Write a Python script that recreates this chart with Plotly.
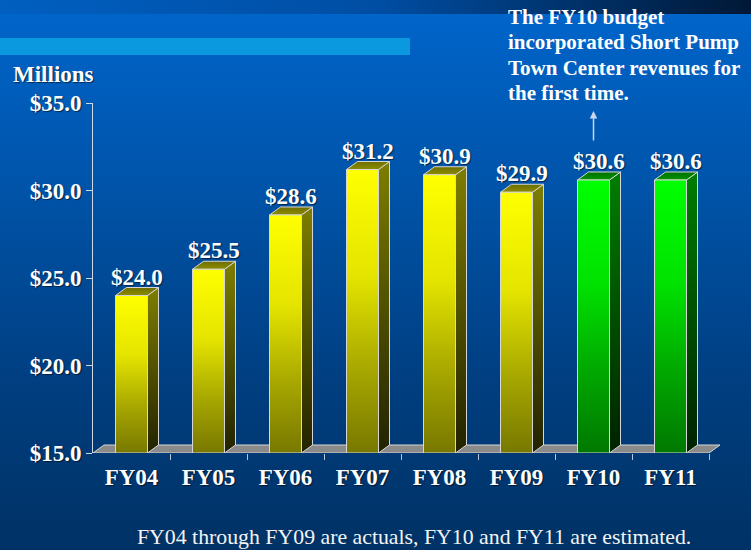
import base64
import plotly.graph_objects as go

# ---------------- data ----------------
categories = ["FY04", "FY05", "FY06", "FY07", "FY08", "FY09", "FY10", "FY11"]
values = [24.0, 25.5, 28.6, 31.2, 30.9, 29.9, 30.6, 30.6]
estimated = [False, False, False, False, False, False, True, True]
y_tick_values = [15, 20, 25, 30, 35]
y_tick_labels = ["$15.0", "$20.0", "$25.0", "$30.0", "$35.0"]
value_labels = ["$24.0", "$25.5", "$28.6", "$31.2", "$30.9", "$29.9", "$30.6", "$30.6"]
note_lines = ["The FY10 budget", "incorporated Short Pump",
              "Town Center revenues for", "the first time."]
footnote = "FY04 through FY09 are actuals, FY10 and FY11 are estimated."

# ---------------- geometry / style ----------------
W, H = 751, 550
L, R, T, B = 93, 722, 103, 453
CAT_W = 77.0
Y_MIN, Y_MAX = 15, 35
PX_PER_Y = (B - T) / (Y_MAX - Y_MIN)
DX = 11 / CAT_W            # depth offset in x units
DY = 8 / PX_PER_Y          # depth offset in y units
HW = 16 / CAT_W            # half width of bar front
XR = (R - L) / CAT_W - 0.5

def px(x):
    return (x - L) / (R - L)

def py(y):
    return (B - y) / (B - T)

SERIF = "Liberation Serif, Times New Roman, serif"
EDGE = "#d6d6d6"
front_scales = {
    False: [[0, "#787800"], [0.3, "#a8a800"], [0.62, "#e4e400"], [1, "#ffff00"]],
    True: [[0, "#007800"], [0.3, "#00a800"], [0.62, "#00e200"], [1, "#00ff00"]],
}
side_scales = {
    False: [[0, "#222200"], [1, "#7e7e00"]],
    True: [[0, "#002200"], [1, "#007e00"]],
}
top_scales = {
    False: [[0, "#8c8c00"], [1, "#6e6e00"]],
    True: [[0, "#009400"], [1, "#007000"]],
}

fig = go.Figure()

# floor
floor_x = [-0.5, len(categories) - 0.5, len(categories) - 0.5 + DX, -0.5 + DX, -0.5]
floor_y = [Y_MIN, Y_MIN, Y_MIN + DY, Y_MIN + DY, Y_MIN]
fig.add_trace(go.Scatter(x=floor_x, y=floor_y, mode="lines", fill="toself",
                         fillcolor="#8a8a8a", line=dict(color=EDGE, width=1),
                         hoverinfo="skip", showlegend=False))

for i, (v, est) in enumerate(zip(values, estimated)):
    x0, x1 = i - HW, i + HW
    # side face
    fig.add_trace(go.Scatter(
        x=[x1, x1 + DX, x1 + DX, x1, x1],
        y=[Y_MIN, Y_MIN + DY, v + DY, v, Y_MIN],
        mode="lines", fill="toself",
        fillgradient=dict(type="vertical", colorscale=side_scales[est],
                          start=Y_MIN, stop=v + DY),
        line=dict(color=EDGE, width=1), hoverinfo="skip", showlegend=False))
    # top face
    fig.add_trace(go.Scatter(
        x=[x0, x1, x1 + DX, x0 + DX, x0],
        y=[v, v, v + DY, v + DY, v],
        mode="lines", fill="toself",
        fillgradient=dict(type="vertical", colorscale=top_scales[est],
                          start=v, stop=v + DY),
        line=dict(color=EDGE, width=1), hoverinfo="skip", showlegend=False))
    # front face
    fig.add_trace(go.Scatter(
        x=[x0, x1, x1, x0, x0],
        y=[Y_MIN, Y_MIN, v, v, Y_MIN],
        mode="lines", fill="toself",
        fillgradient=dict(type="vertical", colorscale=front_scales[est],
                          start=Y_MIN, stop=v),
        line=dict(color=EDGE, width=1), hoverinfo="text",
        text=f"{categories[i]}: {value_labels[i]}", showlegend=False))

annotations = []
shadow = "1px 1px 1px rgba(0,0,0,0.55)"
for i, (v, lab) in enumerate(zip(values, value_labels)):
    annotations.append(dict(x=i + DX / 2, y=v + DY, xref="x", yref="y",
                            text=lab, showarrow=False, yanchor="bottom",
                            yshift=-4,
                            font=dict(family=SERIF, size=23, color="white",
                                      weight="bold", shadow=shadow)))

annotations.append(dict(x=px(11), y=py(75), xref="paper", yref="paper",
                        text="Millions", showarrow=False, xanchor="left",
                        yanchor="middle",
                        font=dict(family=SERIF, size=23, color="white",
                                  weight="bold", shadow=shadow)))

for k, line in enumerate(note_lines):
    annotations.append(dict(x=px(506), y=py(17 + 25.3 * k), xref="paper",
                            yref="paper", text=line, showarrow=False,
                            xanchor="left", yanchor="middle",
                            font=dict(family=SERIF, size=21, color="white",
                                      weight="bold")))

annotations.append(dict(x=6, y=Y_MIN + (B - 111) / PX_PER_Y, xref="x", yref="y",
                        text="", showarrow=True, ax=0, ay=31, arrowhead=2,
                        arrowsize=1, arrowwidth=1.5, arrowcolor="#c8d6ea"))

annotations.append(dict(x=px(414), y=py(537), xref="paper", yref="paper",
                        text=footnote, showarrow=False, xanchor="center",
                        yanchor="middle",
                        font=dict(family=SERIF, size=21.8, color="#f4f4f4")))

svg = (
    f'<svg xmlns="http://www.w3.org/2000/svg" width="{W}" height="{H}" '
    f'viewBox="0 0 {W} {H}" preserveAspectRatio="none"><defs>'
    '<linearGradient id="v" x1="0" y1="0" x2="0" y2="1">'
    '<stop offset="0" stop-color="#0066cc"/>'
    '<stop offset="0.35" stop-color="#0053a8"/>'
    '<stop offset="0.7" stop-color="#003e80"/>'
    '<stop offset="1" stop-color="#003265"/></linearGradient>'
    '<linearGradient id="h" x1="0" y1="0" x2="1" y2="0">'
    '<stop offset="0" stop-color="#005fc0"/>'
    '<stop offset="0.5" stop-color="#004ea4"/>'
    '<stop offset="1" stop-color="#001836"/></linearGradient>'
    '</defs>'
    f'<rect width="{W}" height="{H}" fill="url(#v)"/>'
    f'<rect width="{W}" height="14" fill="url(#h)"/>'
    '</svg>'
)
bg_src = "data:image/svg+xml;base64," + base64.b64encode(svg.encode()).decode()

fig.update_layout(
    width=W, height=H,
    margin=dict(l=L, r=W - R, t=T, b=H - B, pad=0),
    paper_bgcolor="#003366", plot_bgcolor="rgba(0,0,0,0)",
    showlegend=False,
    images=[dict(source=bg_src, xref="paper", yref="paper",
                 x=px(0), y=py(0), sizex=W / (R - L), sizey=H / (B - T),
                 xanchor="left", yanchor="top", sizing="stretch",
                 layer="below")],
    shapes=[dict(type="rect", xref="paper", yref="paper",
                 x0=px(0), x1=px(410), y0=py(55), y1=py(38),
                 fillcolor="#0a98de", line=dict(width=0), layer="below")],
    annotations=annotations,
    xaxis=dict(range=[-0.5, XR], showgrid=False, zeroline=False,
               showline=False, automargin=False,
               tickmode="array", tickvals=list(range(len(categories))),
               ticktext=categories, ticks="outside", ticklen=3,
               tickcolor="rgba(0,0,0,0)",
               tickfont=dict(family=SERIF, size=23, color="white",
                             weight="bold", shadow=shadow),
               minor=dict(tickmode="array",
                          tickvals=[i + 0.5 for i in range(len(categories))],
                          ticks="outside", ticklen=6, tickcolor="#b8c4d8",
                          tickwidth=1, showgrid=False),
               fixedrange=True),
    yaxis=dict(range=[Y_MIN, Y_MAX], showgrid=False, zeroline=False,
               showline=True, linecolor="#d0d8e4", linewidth=1,
               automargin=False,
               tickmode="array", tickvals=y_tick_values, ticktext=y_tick_labels,
               ticks="outside", ticklen=6, tickcolor="#d0d8e4",
               tickfont=dict(family=SERIF, size=23, color="white",
                             weight="bold", shadow=shadow),
               fixedrange=True),
)

fig.write_html("out.html", config={"displayModeBar": False})

# remove the browser's default page margin so the figure fills the window
with open("out.html", "r", encoding="utf-8") as f:
    html = f.read()
html = html.replace("<head>", "<head><style>html,body{margin:0;padding:0;"
                    "background:#003366;overflow:hidden}</style>", 1)
with open("out.html", "w", encoding="utf-8") as f:
    f.write(html)
